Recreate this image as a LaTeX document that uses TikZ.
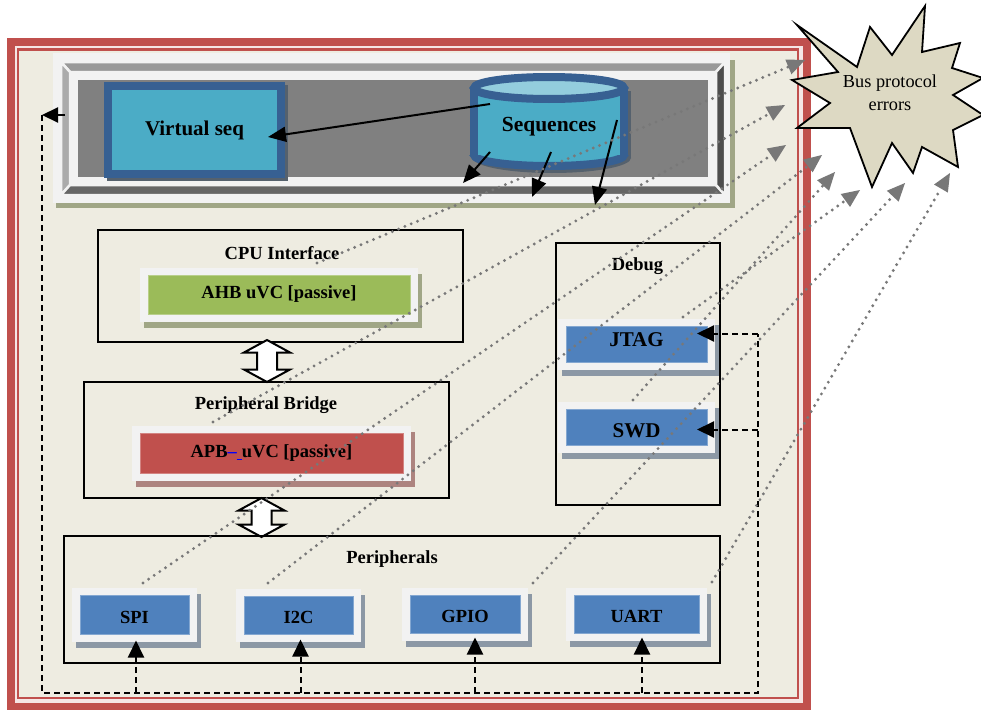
\documentclass[tikz,border=0pt]{standalone}
\usepackage{fontspec}
\setmainfont{Liberation Serif}
\usetikzlibrary{arrows.meta,calc}

\definecolor{bgbeige}{HTML}{EEECE1}
\definecolor{framered}{HTML}{C0504D}
\definecolor{framegap}{HTML}{F5E6E5}
\definecolor{panelwhite}{HTML}{F2F2F2}
\definecolor{ahbgreen}{HTML}{9BBB59}
\definecolor{apbred}{HTML}{C0504D}
\definecolor{ipblue}{HTML}{4F81BD}
\definecolor{seqteal}{HTML}{4BACC6}
\definecolor{seqborder}{HTML}{376092}
\definecolor{seqtop}{HTML}{93CDDD}
\definecolor{greenshadow}{HTML}{A0A686}
\definecolor{redshadow}{HTML}{AD847F}
\definecolor{blueshadow}{HTML}{8C98A5}
\definecolor{darkshadow}{HTML}{55616D}
\definecolor{bevtop}{HTML}{999999}
\definecolor{bevleft}{HTML}{ABABAB}
\definecolor{bevbottom}{HTML}{666666}
\definecolor{bevright}{HTML}{4D4D4D}
\definecolor{bevinner}{HTML}{808080}
\definecolor{burst}{HTML}{DDD9C3}
\definecolor{dotgray}{HTML}{787878}

\tikzset{
  every node/.style={inner sep=0pt, outer sep=0pt},
  groupbox/.style={draw=black, line width=2pt},
  grouptitle/.style={font=\bfseries\fontsize{18.5}{20}\selectfont},
  uvcbox/.style={line width=0.8pt},
  uvctext/.style={font=\bfseries\fontsize{18.5}{20}\selectfont},
  flow/.style={black, line width=2pt, -{Triangle[length=18pt,width=15pt]}},
  bus/.style={black, line width=2pt, dash pattern=on 6pt off 4pt},
  busarrow/.style={bus, -{Triangle[length=17pt,width=16pt]}},
  errline/.style={dotgray, line width=3.2pt, line cap=round,
    dash pattern=on 0pt off 6.8pt, -{Triangle[length=18pt,width=16pt,line width=0pt]}},
  bigarrow/.style={draw=black, fill=white, line width=2pt, line join=miter},
}

% verification IP panel: shadow, light frame and coloured box carrying the label
% #1 name, #2-#5 frame corners, #6 fill, #7 shadow, #8 text, #9 text shift
\newcommand\uvcpanel[9]{%
  \fill[#7] (#2+3.5,#3+6) rectangle (#4+3.5,#5+6);
  \fill[panelwhite] (#2,#3) rectangle (#4,#5);
  \node[uvcbox, fill=#6, draw=#6!70!white,
        minimum width={#4-#2-16}, minimum height={#5-#3-15},
        label={[uvctext, yshift=#9]center:{#8}}]
        (#1) at ({(#2+#4)/2},{(#3+#5)/2}) {};}

% white two-headed block arrow between stacked blocks
\newcommand\dblarrow[3]{%
  \filldraw[bigarrow] (#1,#2) -- (#1+23,#2+12.5) -- (#1+10,#2+12.5)
    -- (#1+10,#3-12.5) -- (#1+23,#3-12.5) -- (#1,#3) -- (#1-23,#3-12.5)
    -- (#1-10,#3-12.5) -- (#1-10,#2+12.5) -- (#1-23,#2+12.5) -- cycle;}

\begin{document}
\begin{tikzpicture}[x=1pt,y=-1pt]
\useasboundingbox (0,0) rectangle (981,709);
\fill[white] (0,0) rectangle (981,709);

% double red frame
\fill[framegap] (11,42) rectangle (807,706.5);
\draw[framered, line width=8pt] (11,42) rectangle (807,706.5);
\fill[bgbeige] (18,49.5) rectangle (798,698);
\draw[framered, line width=2.2pt] (18,49.5) rectangle (798,698);

% bevelled sequence panel
\fill[greenshadow] (56,60) rectangle (735,208);
\fill[panelwhite] (53,53) rectangle (730,203);
\filldraw[fill=bevtop, draw=panelwhite, line width=2.5pt] (61,62) -- (725,62) -- (716,72) -- (70,72) -- cycle;
\filldraw[fill=bevleft, draw=panelwhite, line width=2.5pt] (61,62) -- (70,72) -- (70,185) -- (61,195) -- cycle;
\filldraw[fill=bevbottom, draw=panelwhite, line width=2.5pt] (61,195) -- (70,185) -- (716,185) -- (725,195) -- cycle;
\filldraw[fill=bevright, draw=panelwhite, line width=2.5pt] (725,62) -- (725,195) -- (716,185) -- (716,72) -- cycle;
\fill[panelwhite] (70,72) rectangle (716,185);
\fill[bevinner] (78,80) rectangle (708,177);

% virtual sequencer
\fill[darkshadow] (107,85) rectangle (288,181);
\node[draw=seqborder, fill=seqteal, line width=8pt, minimum width=173pt,
      minimum height=88pt, font=\bfseries\fontsize{21}{24}\selectfont]
      (vseq) at (194.5,130) {Virtual seq};

% sequence library cylinder
\fill[darkshadow] (477,91) rectangle (631,158);
\fill[darkshadow] (552,158) ellipse[x radius=79, y radius=15];
\fill[seqteal] (474,88) rectangle (624,155);
\fill[seqteal] (549,155) ellipse[x radius=75, y radius=11];
\draw[seqborder, line width=8pt] (474,88) -- (474,155);
\draw[seqborder, line width=8pt] (624,88) -- (624,155);
\begin{scope}
  \clip (460,155) rectangle (640,180);
  \draw[seqborder, line width=8pt] (549,155) ellipse[x radius=75, y radius=11];
\end{scope}
\filldraw[fill=seqtop, draw=seqborder, line width=8pt] (549,88) ellipse[x radius=75, y radius=11];
\node[font=\bfseries\fontsize{21.5}{24}\selectfont] (seq) at (549,127) {Sequences};

\coordinate (s1) at (490,104);
\coordinate (s2) at (490,152);
\coordinate (s3) at (551,152);
\coordinate (s4) at (617,120);
\coordinate (t1) at (463,183);
\coordinate (t2) at (532,197);
\coordinate (t3) at (595,205);
\draw[flow] (s1) -- ($(vseq.east)+(-13,7)$);
\draw[flow] (s2) -- (t1);
\draw[flow] (s3) -- (t2);
\draw[flow] (s4) -- (t3);

% CPU interface
\node[groupbox, minimum width=365pt, minimum height=112pt] (cpu) at (280.5,286) {};
\node[grouptitle] (cput) at (282,253) {CPU Interface};
\uvcpanel{ahb}{140}{268}{418}{322}{ahbgreen}{greenshadow}{AHB uVC [passive]}{1pt}

\dblarrow{267}{340}{382}

% peripheral bridge
\node[groupbox, minimum width=365pt, minimum height=116pt] (pb) at (266.5,440) {};
\node[grouptitle] (pbt) at (266,405) {Peripheral Bridge};
\uvcpanel{apb}{132}{426}{411}{481}{apbred}{redshadow}{APB{\color{blue}–\rule[-2pt]{5pt}{1.2pt}}uVC [passive]}{0pt}

\dblarrow{261.5}{498}{537}

% debug block
\node[groupbox, minimum width=164pt, minimum height=262pt] (dbg) at (638,374) {};
\node[grouptitle] (dbgt) at (637.5,266) {Debug};
\uvcpanel{jtag}{558}{319}{715}{370}{ipblue}{blueshadow}{\fontsize{21}{21}\selectfont JTAG}{5pt}
\uvcpanel{swd}{558}{402}{715}{453}{ipblue}{blueshadow}{\fontsize{21}{21}\selectfont SWD}{-3pt}

% peripherals
\node[groupbox, minimum width=656pt, minimum height=127pt] (per) at (392,599.5) {};
\node[grouptitle] (pert) at (392,559) {Peripherals};
\uvcpanel{spi}{72}{588}{197}{642}{ipblue}{blueshadow}{SPI}{-2pt}
\uvcpanel{iic}{236}{589}{361}{642}{ipblue}{blueshadow}{I2C}{-2pt}
\uvcpanel{gpio}{402}{588}{528}{641}{ipblue}{blueshadow}{GPIO}{-2pt}
\uvcpanel{uart}{566}{588}{707}{641}{ipblue}{blueshadow}{UART}{-2pt}

% dashed stimulus bus
\coordinate (panelL) at (65,115);
\coordinate (busTL) at (42,115);
\coordinate (busL) at (42,693);
\coordinate (busR) at (758,693);
\coordinate (jtagin) at ($(jtag.east)+(-10,-11)$);
\coordinate (swdin) at ($(swd.east)+(-10,2)$);
\coordinate (busTR) at (busR |- jtagin);
\coordinate (spiin) at ($(spi.south)+(1.5,6)$);
\coordinate (iicin) at ($(iic.south)+(2,5)$);
\coordinate (gpioin) at ($(gpio.south)+(10,4)$);
\coordinate (uartin) at ($(uart.south)+(5.5,4)$);
\draw[bus] (busTL) -- (busL) -- (busR) -- (busTR);
\draw[black, line width=2pt, -{Triangle[length=16pt,width=15pt]}] (panelL) -- (busTL);
\draw[busarrow] (busTR) -- (jtagin);
\draw[busarrow] (busR |- swdin) -- (swdin);
\draw[busarrow] (busL -| spiin) -- (spiin);
\draw[busarrow] (busL -| iicin) -- (iicin);
\draw[busarrow] (busL -| gpioin) -- (gpioin);
\draw[busarrow] (busL -| uartin) -- (uartin);

% error burst
\draw[fill=burst, draw=black, line width=1.8pt, line join=miter]
  (797,25) -- (857,67) -- (870,27) -- (892,55) -- (925,6) -- (922,52)
  -- (960,43) -- (952,68) -- (983,78) -- (953,95) -- (983,115) -- (953,130)
  -- (958,167) -- (922,147) -- (913,173) -- (892,143) -- (872,187)
  -- (850,128) -- (797,128) -- (830,103) -- (792,80) -- (838,72) -- cycle;
\node[align=center, font=\fontsize{18.3}{23}\selectfont] (errs) at (890,93) {Bus protocol\\errors};

% protocol error reporting paths
\coordinate (d1) at (317,263); \coordinate (e1) at (805,60);
\coordinate (d2) at (213,422); \coordinate (e2) at (785,105);
\coordinate (d3) at (143,583); \coordinate (e3) at (786,145);
\coordinate (d4) at (268,583); \coordinate (e4) at (822,155);
\coordinate (d5) at (633,400); \coordinate (e5) at (835,172);
\coordinate (d6) at (683,317); \coordinate (e6) at (860,190);
\coordinate (d7) at (533,583); \coordinate (e7) at (905,183);
\coordinate (d8) at (712,582); \coordinate (e8) at (950,173);
\foreach \i in {1,...,8} { \draw[errline] (d\i) -- (e\i); }
\end{tikzpicture}
\end{document}
